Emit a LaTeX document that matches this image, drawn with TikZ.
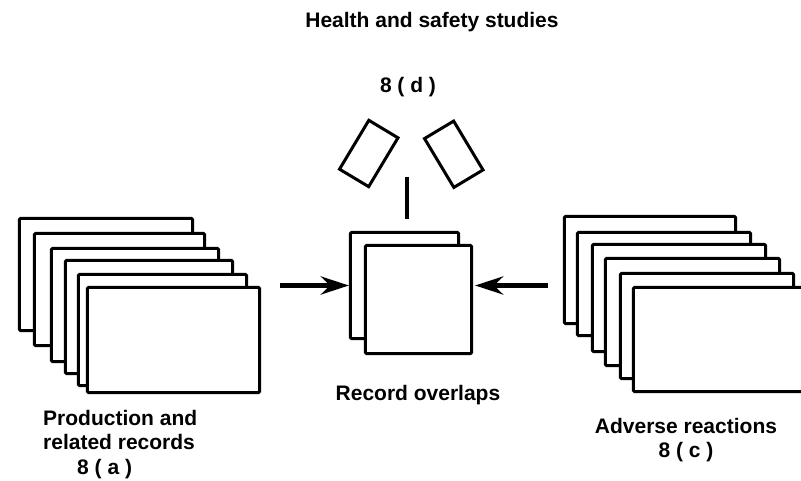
\documentclass[tikz,border=0pt]{standalone}
\usepackage{fontspec}
\setmainfont{Liberation Sans}
\usetikzlibrary{arrows.meta}
\begin{document}
\begin{tikzpicture}[x=1pt,y=-1pt,
  card/.style={draw, line width=2.9pt, fill=white, rounded corners=1.2pt, inner sep=0pt},
  tilt/.style={draw, line width=3pt, fill=white, inner sep=0pt, minimum width=34pt, minimum height=57pt},
  lbl/.style={font=\bfseries\fontsize{21}{24.5}\selectfont, inner sep=0pt},
  arr/.style={line width=4.5pt, -{Stealth[length=28pt,width=18pt,inset=9pt]}},
  stem/.style={line width=3.5pt}
]
\useasboundingbox (0,0) rectangle (801,481);

% left stack
\node[card, minimum width=173.2pt, minimum height=112.2pt] (l1) at (106,274.5) {};
\node[card, minimum width=170.2pt, minimum height=112.2pt] (l2) at (119.5,289.5) {};
\node[card, minimum width=167.2pt, minimum height=113.2pt] (l3) at (135,305) {};
\node[card, minimum width=167.2pt, minimum height=113.2pt] (l4) at (149,317) {};
\node[card, minimum width=168.2pt, minimum height=111.2pt] (l5) at (162.5,330) {};
\node[card, minimum width=172.2pt, minimum height=105.2pt] (l6) at (173.5,340) {};

% middle
\node[card, minimum width=108.2pt, minimum height=106.2pt] (mb) at (404.5,285.5) {};
\node[card, minimum width=106.2pt, minimum height=108.2pt] (mf) at (418.5,299.5) {};

% right stack
\node[card, minimum width=171.2pt, minimum height=107.2pt] (r1) at (650,270) {};
\node[card, minimum width=173.2pt, minimum height=103.2pt] (r2) at (664,284) {};
\node[card, minimum width=173.2pt, minimum height=107.2pt] (r3) at (679,298) {};
\node[card, minimum width=174.2pt, minimum height=107.2pt] (r4) at (692.5,312) {};
\node[card, minimum width=173.2pt, minimum height=105.2pt] (r5) at (707,326) {};
\node[card, minimum width=175.2pt, minimum height=104.2pt] (r6) at (721,339.5) {};

% tilted cards 8(d)
\node[tilt, rotate=-31] (tl) at (368.75,153.5) {};
\node[tilt, rotate=31] (tr) at (453.75,154.25) {};

% connectors
\draw[stem] ([xshift=2.5pt,yshift=12pt]mb.north) -- ++(0,-42);
\draw[arr] ([xshift=19pt]l6.east |- mb.west) -- (mb.west);
\draw[arr] ([xshift=-15pt]r1.west |- mb.west) -- ([xshift=2pt]mf.east |- mb.west);

% labels
\node[lbl, anchor=base] (title) at (432,28) {Health and safety studies};
\node[lbl, anchor=base] (d) at (408,93) {8 ( d )};
\node[lbl, anchor=base] (ro) at (418,400) {Record overlaps};
\node[lbl, anchor=north west, align=left] (pa) at (43,410) {Production and\\related records\\\hspace*{34pt}8 ( a )};
\node[lbl, anchor=north, align=center] (ac) at (686,418) {Adverse reactions\\8 ( c )};
\end{tikzpicture}
\end{document}
